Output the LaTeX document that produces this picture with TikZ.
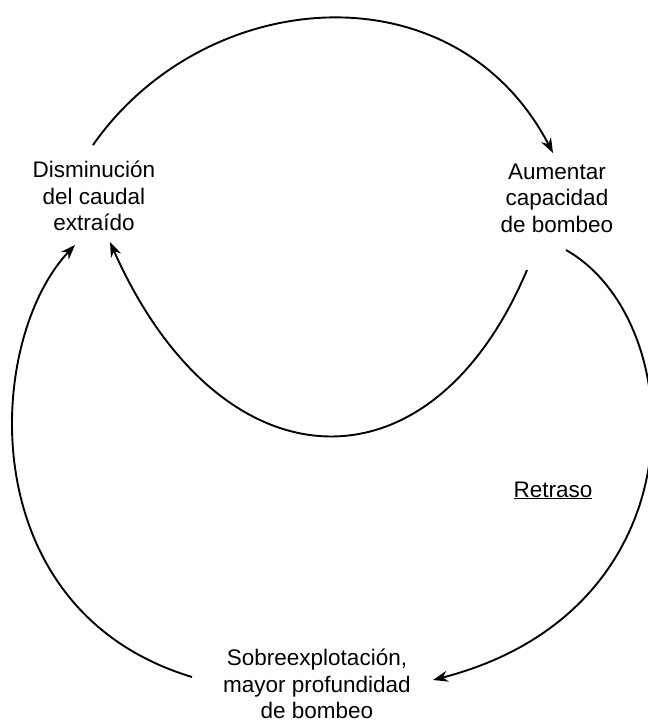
\documentclass[tikz,border=0pt]{standalone}
\usepackage{fontspec}
\setmainfont{Liberation Sans}
\usetikzlibrary{arrows.meta}

\begin{document}
\begin{tikzpicture}[x=1pt, y=-1pt,
    lbl/.style={align=center, inner sep=0pt, font=\fontsize{22.5}{26.5}\selectfont},
    flecha/.style={line width=1.9pt, -{Stealth[length=15pt, width=11pt, inset=5pt]}}]
    \useasboundingbox (0,0) rectangle (648,724);
    \node[lbl] (dism) at (94,196) {Disminución\\del caudal\\extraído};
    \node[lbl] (aum) at (557,198) {Aumentar\\capacidad\\de bombeo};
    \node[lbl] (sobre) at (317,684) {Sobreexplotación,\\mayor profundidad\\de bombeo};
    \node[lbl, anchor=base] (retraso) at (553,497) {\underline{Retraso}};
    \draw[flecha] ([shift={(-1,-51)}]dism.center) .. controls (205,-15) and (455,-35) .. ([shift={(-4,-45)}]aum.center);
    \draw[flecha] ([shift={(-30,72)}]aum.center) .. controls (430,500) and (220,490) .. ([shift={(16,46)}]dism.center);
    \draw[flecha] ([shift={(9,52)}]aum.center) .. controls (690,320) and (705,610) .. ([shift={(116,-4)}]sobre.center);
    \draw[flecha] ([shift={(-125,-7)}]sobre.center) .. controls (-30,610) and (-15,340) .. ([shift={(-19,49)}]dism.center);
\end{tikzpicture}
\end{document}
